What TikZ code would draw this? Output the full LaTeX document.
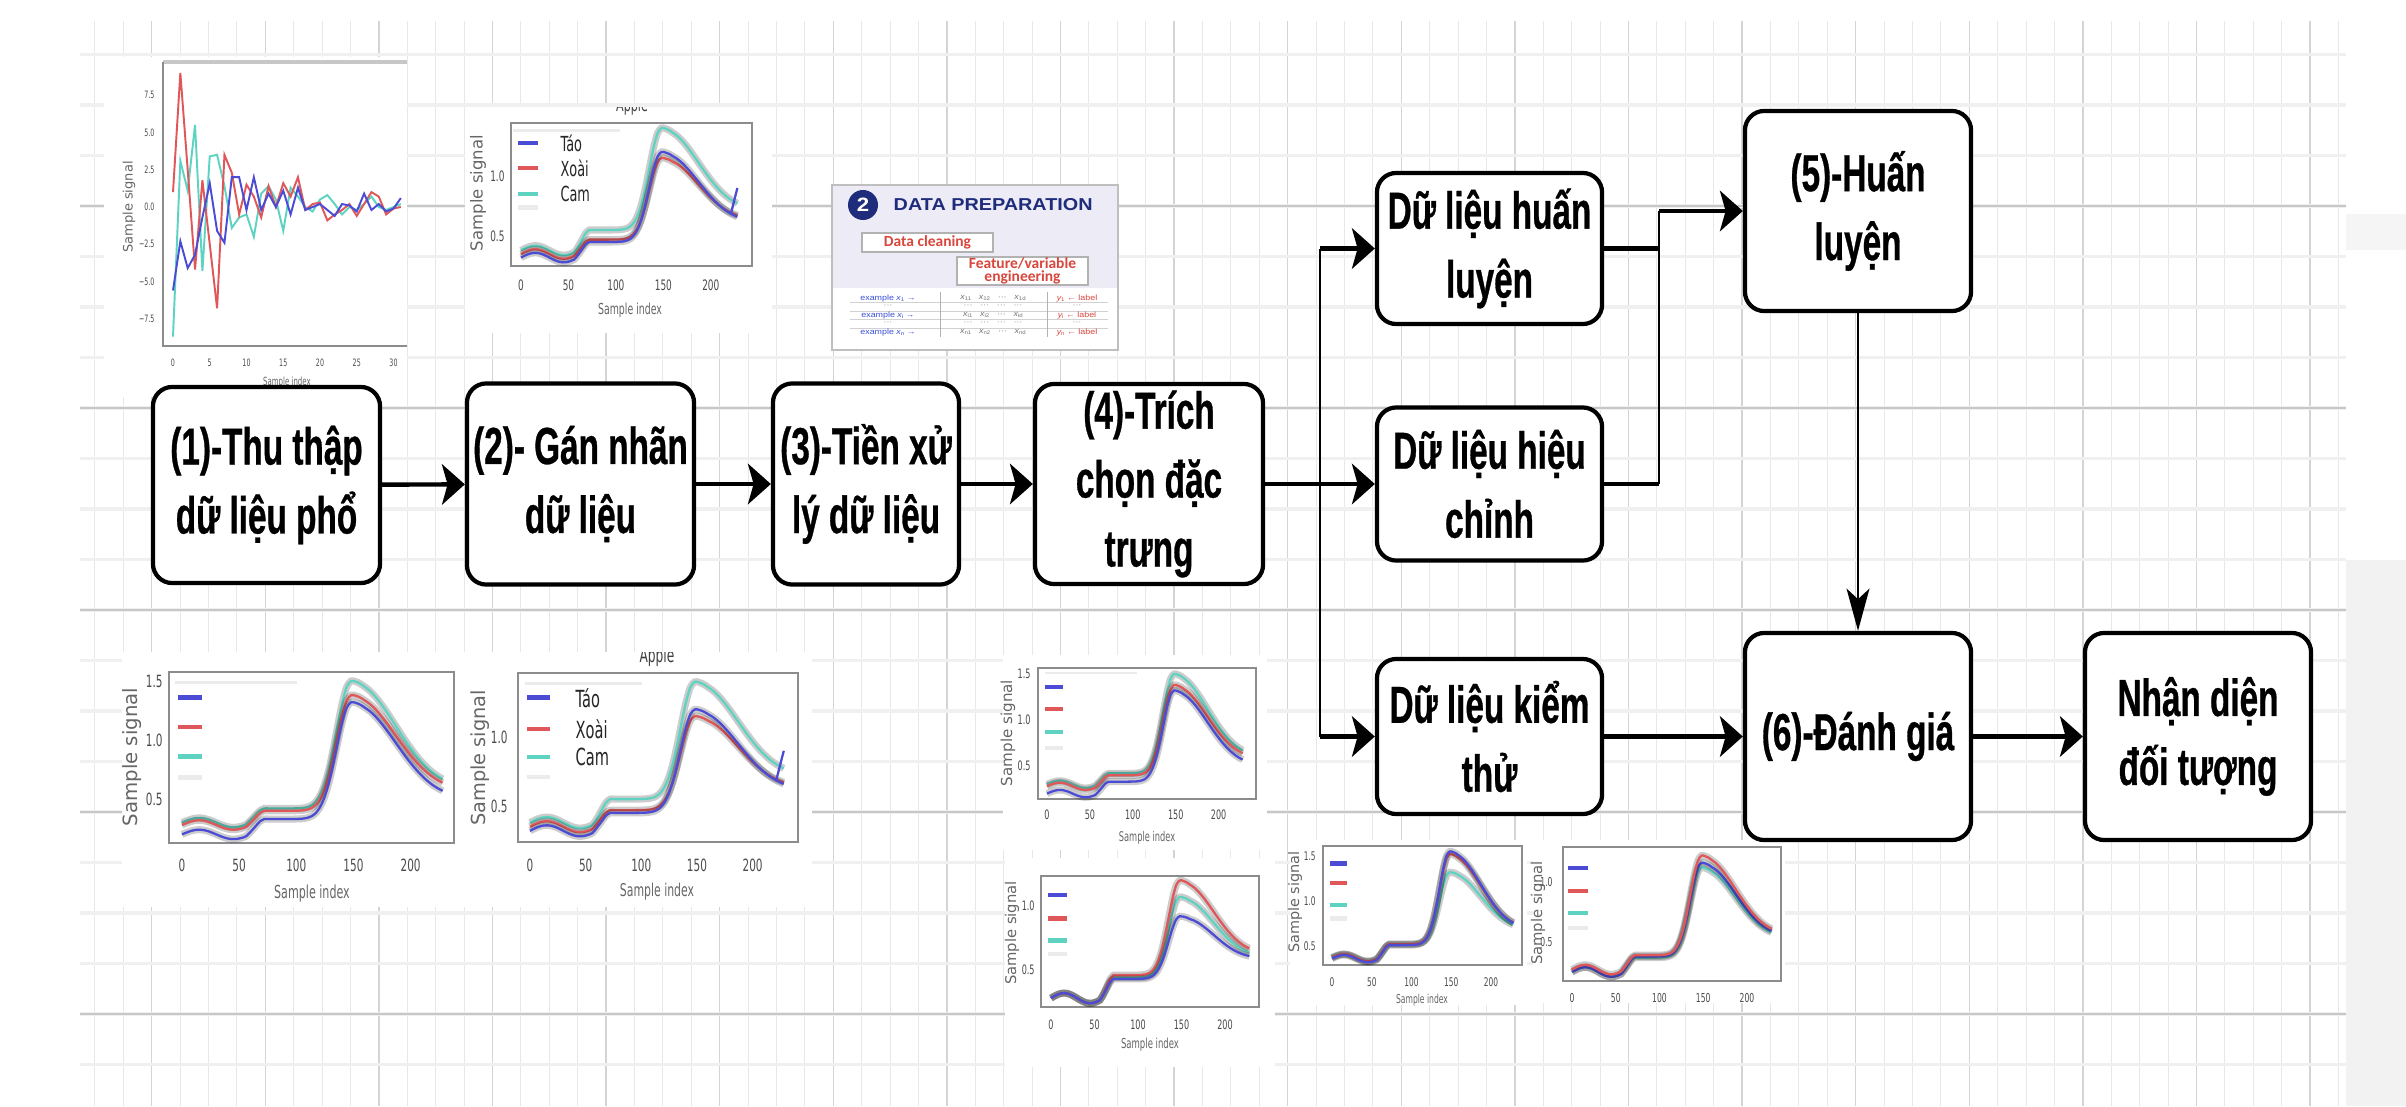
\documentclass[tikz,border=0pt]{standalone}
\usepackage{fontspec}
\usetikzlibrary{arrows.meta}
\newfontfamily\boxfont[FakeStretch=0.64, FakeBold=0.6]{Liberation Sans}
\newfontfamily\plotfont[FakeStretch=0.62]{DejaVu Sans}
\newfontfamily\plotfontr{DejaVu Sans}
\newfontfamily\prepfont[FakeStretch=1.15]{Liberation Sans}
\newfontfamily\calfont{Carlito}
\definecolor{cblue}{HTML}{4B4BD6}
\definecolor{cred}{HTML}{E0575A}
\definecolor{ccyan}{HTML}{5FD3C2}
\definecolor{navy}{HTML}{1F2C7C}
\definecolor{prepred}{HTML}{D8463C}
\definecolor{exblue}{HTML}{3A4FD8}
\definecolor{lav}{HTML}{EDECF6}
\newcommand\tsub[1]{\raisebox{-0.35pt}{\fontsize{1.5}{1.5}\selectfont #1}}

\begin{document}
\begin{tikzpicture}[x=0.01cm, y=-0.01cm,
    mainbox/.style={draw, line width=1.2pt, rounded corners=5.5pt, fill=white,
      inner sep=0pt, align=center,
      font=\boxfont\bfseries\fontsize{14.8}{19.6}\selectfont},
    harrow/.style={line width=1.25pt, -{Stealth[length=6.5pt,width=11.5pt,inset=1.6pt]}},
    hline/.style={line width=1.25pt},
    vline/.style={line width=0.8pt},
    varrow/.style={line width=0.8pt, -{Stealth[length=12pt,width=6.5pt,inset=3pt]}},
    gminv/.style={black!9, line width=0.3pt},
    gmajv/.style={black!17, line width=0.4pt},
    gminh/.style={black!6, line width=1pt},
    gmajh/.style={black!22, line width=0.6pt},
    axis/.style={black!45, line width=0.6pt},
    tk/.style={font=\plotfont\fontsize{#1}{#1}\selectfont, text=black!70, inner sep=0.5pt},
    al/.style={font=\plotfont\fontsize{#1}{#1}\selectfont, text=black!60, inner sep=0pt},
    alr/.style={font=\plotfontr\fontsize{#1}{#1}\selectfont, text=black!60, inner sep=0pt, rotate=90},
    lg/.style={font=\plotfont\fontsize{#1}{#1}\selectfont, text=black!85, anchor=west, inner sep=0pt},
    leg/.style={line width=1.4pt},
    legfr/.style={black!8, line width=0.8pt},
    spc/.style={line width=0.65pt, domain=0:228, samples=58, smooth,
      preaction={draw, line width=2pt, draw opacity=0.2}},
    osc/.style={line width=0.55pt},
    prepbox/.style={draw=black!30, line width=0.4pt, fill=white, text=prepred,
      align=center, inner sep=0pt, font=\calfont\bfseries\fontsize{4.4}{3.8}\selectfont},
    tbl/.style={inner sep=0pt, font=\prepfont\fontsize{2.2}{2.2}\selectfont},
    declare function={spec(\xx,\bb,\st,\pk)=\bb+0.04*sin(6*\xx)*(\xx<60)
      +\st*min(1,max(0,(\xx-58)/12))
      +(\pk-\bb-\st)*exp(-((\xx-148)/(18+37*(\xx>148)))*((\xx-148)/(18+37*(\xx>148))))
      +0.12*max(0,(\xx-160)/68);},
  ]
\useasboundingbox (0,0) rectangle (2406,1106);
\fill[white] (0,0) rectangle (2406,1106);

% grid paper
\foreach \k in {-2,...,77} \draw[gminv] ({151.7+28.4*\k},21) -- ({151.7+28.4*\k},1106);
\foreach \k in {0,4,...,76} \draw[gmajv] ({151.7+28.4*\k},21) -- ({151.7+28.4*\k},1106);
\foreach \k in {-3,...,17} \draw[gminh] (80,{206+50.5*\k}) -- (2346,{206+50.5*\k});
\foreach \k in {0,4,...,16} \draw[gmajh] (80,{206+50.5*\k}) -- (2346,{206+50.5*\k});
\fill[black!4] (2346,214) rectangle (2406,250);
\fill[black!5] (2346,560) rectangle (2406,1106);

% white backs of the plots
\fill[white] (104,57) rectangle (407,397);
\fill[white] (465,107) rectangle (772,333);
\fill[white] (122,652) rectangle (812,907);
\fill[white] (1003,655) rectangle (1267,850);
\fill[white] (1005,858) rectangle (1275,1067);
\fill[white] (1290,840) rectangle (1527,1005);
\fill[white] (1533,840) rectangle (1785,1003);

% raw signal plot
\begin{scope}[shift={(173,207)}, xscale=7.35, yscale=-14.9]
  \draw[black!22, line width=1.2pt] (-1.36,9.73) -- (31.8,9.73);
  \draw[axis] (-1.36,9.73) -- (-1.36,-9.33) -- (31.8,-9.33);
  \foreach \v/\s in {-7.5/−7.5,-5.0/−5.0,-2.5/−2.5,0.0/0.0,2.5/2.5,5.0/5.0,7.5/7.5}
    \node[tk=2.9, anchor=east] at (-2.2,\v) {\s};
  \foreach \v in {0,5,...,30} \node[tk=2.9] at (\v,-10.47) {\v};
  \node[al=3.2] (p1x) at (15.5,-11.75) {Sample index};
  \node[alr=3.7] (p1y) at (-5.99,0) {Sample signal};
  \draw[osc, ccyan] plot coordinates {(0,-8.7) (1,3.1) (2,1.1) (3,5.5) (4,-4.3) (5,3.4) (6,3.5) (7,1.4) (8,-1.4) (9,-0.7) (10,-0.5) (11,-2.0) (12,0.9) (13,1.4) (14,0.5) (15,-1.6) (16,1.3) (17,0.7) (18,0) (19,-0.3) (20,0.5) (21,0.8) (22,0.2) (23,-0.5) (24,0) (25,-0.2) (26,0.2) (27,0.7) (28,0) (29,-0.2) (30,0) (31,0.2)};
  \draw[osc, cred] plot coordinates {(0,1.0) (1,9.0) (2,2.5) (3,-4.2) (4,1.8) (5,-2.5) (6,-6.8) (7,3.5) (8,2.3) (9,-0.5) (10,1.5) (11,0.7) (12,-0.7) (13,1.4) (14,0) (15,1.6) (16,0.7) (17,2.0) (18,-0.2) (19,0.2) (20,0.3) (21,-0.9) (22,-0.5) (23,-0.2) (24,0.2) (25,-0.6) (26,0.2) (27,1.0) (28,0.7) (29,-0.5) (30,-0.1) (31,0)};
  \draw[osc, cblue] plot coordinates {(0,-5.6) (1,-2.3) (2,-4.1) (3,-3.2) (4,-0.7) (5,1.6) (6,-1.6) (7,-2.4) (8,2.0) (9,2.0) (10,-0.2) (11,2.0) (12,-0.2) (13,0.9) (14,0) (15,1.1) (16,-0.5) (17,1.3) (18,-0.2) (19,0) (20,0.2) (21,-0.2) (22,-0.6) (23,0.2) (24,0.1) (25,-0.3) (26,0.9) (27,-0.2) (28,0.2) (29,-0.3) (30,-0.1) (31,0.6)};
\end{scope}

% apple plot, top
\begin{scope}[shift={(521,296)}, xscale=0.949, yscale=-120]
  \begin{scope}
    \clip (-60,1.568) rectangle (260,1.46);
    \node[al=5.1, anchor=base, text=black!75] (p2t) at (117,1.536) {Apple};
  \end{scope}
  \draw[axis] (-10.5,0.25) rectangle (243.4,1.44);
  \foreach \v in {0,50,...,200} \node[tk=4.1] at (\v,0.092) {\v};
  \foreach \v in {0.5,1.0} \node[tk=4.1, anchor=east] at (-14.8,\v) {\v};
  \node[al=4.3] (p2x) at (114.9,-0.117) {Sample index};
  \node[alr=4.7] (p2y) at (-45.3,0.858) {Sample signal};
  \draw[legfr] (-8,1.38) -- (104,1.38);
  \draw[leg, cblue] (-3.2,1.275) -- (17.9,1.275);
  \draw[leg, cred] (-3.2,1.067) -- (17.9,1.067);
  \draw[leg, ccyan] (-3.2,0.85) -- (17.9,0.85);
  \draw[leg, black!8] (-3.2,0.74) -- (17.9,0.74);
  \node[lg=5.9] (p2a) at (41,1.275) {Táo};
  \node[lg=5.9] (p2b) at (41,1.067) {Xoài};
  \node[lg=5.9] (p2c) at (41,0.85) {Cam};
  \draw[spc, ccyan] plot (\x,{spec(\x,0.38,0.17,1.4)});
  \draw[spc, cred] plot (\x,{spec(\x,0.35,0.12,1.15)});
  \draw[spc, cblue] plot (\x,{spec(\x,0.32,0.13,1.2)});
  \draw[line width=0.65pt, cblue] (221,0.68) -- (228,0.9);
\end{scope}

% spectra plot, bottom left
\begin{scope}[shift={(182,858)}, xscale=1.143, yscale=-118]
  \draw[axis] (-11.4,0.127) rectangle (238,1.576);
  \foreach \v in {0,50,...,200} \node[tk=4.8] at (\v,-0.06) {\v};
  \foreach \v in {0.5,1.0,1.5} \node[tk=4.8, anchor=east] at (-14.9,\v) {\v};
  \node[al=5.1] (p3x) at (113.7,-0.297) {Sample index};
  \node[alr=5.6] (p3y) at (-43.7,0.856) {Sample signal};
  \draw[legfr] (-6,1.49) -- (101,1.49);
  \draw[leg, cblue] (-3.5,1.364) -- (17.5,1.364);
  \draw[leg, cred] (-3.5,1.11) -- (17.5,1.11);
  \draw[leg, ccyan] (-3.5,0.864) -- (17.5,0.864);
  \draw[leg, black!8] (-3.5,0.686) -- (17.5,0.686);
  \draw[spc, ccyan] plot (\x,{spec(\x,0.3,0.12,1.5)});
  \draw[spc, cred] plot (\x,{spec(\x,0.28,0.12,1.38)});
  \draw[spc, cblue] plot (\x,{spec(\x,0.2,0.13,1.32)});
\end{scope}

% apple plot, bottom
\begin{scope}[shift={(530,875)}, xscale=1.113, yscale=-138]
  \begin{scope}
    \clip (-60,1.616) rectangle (260,1.5);
    \node[al=5.6, anchor=base, text=black!75] (p4t) at (114,1.538) {Apple};
  \end{scope}
  \draw[axis] (-10.8,0.239) rectangle (240.8,1.464);
  \foreach \v in {0,50,...,200} \node[tk=4.8] at (\v,0.072) {\v};
  \foreach \v in {0.5,1.0} \node[tk=4.8, anchor=east] at (-18,\v) {\v};
  \node[al=5.0] (p4x) at (114.1,-0.123) {Sample index};
  \node[alr=5.5] (p4y) at (-44.9,0.848) {Sample signal};
  \draw[legfr] (-4.5,1.39) -- (101,1.39);
  \draw[leg, cblue] (-2.7,1.283) -- (18,1.283);
  \draw[leg, cred] (-2.7,1.058) -- (18,1.058);
  \draw[leg, ccyan] (-2.7,0.855) -- (18,0.855);
  \draw[leg, black!8] (-2.7,0.71) -- (18,0.71);
  \node[lg=6.7] (p4a) at (40.4,1.283) {Táo};
  \node[lg=6.7] (p4b) at (40.4,1.058) {Xoài};
  \node[lg=6.7] (p4c) at (40.4,0.855) {Cam};
  \draw[spc, ccyan] plot (\x,{spec(\x,0.38,0.17,1.4)});
  \draw[spc, cred] plot (\x,{spec(\x,0.35,0.12,1.15)});
  \draw[spc, cblue] plot (\x,{spec(\x,0.32,0.13,1.2)});
  \draw[line width=0.65pt, cblue] (221,0.68) -- (228,0.9);
\end{scope}

% spectra under box 4
\begin{scope}[shift={(1047,812)}, xscale=0.858, yscale=-92]
  \draw[axis] (-10.5,0.141) rectangle (243.6,1.565);
  \foreach \v in {0,50,...,200} \node[tk=3.7] at (\v,-0.033) {\v};
  \foreach \v in {0.5,1.0,1.5} \node[tk=3.7, anchor=east] at (-16.3,\v) {\v};
  \node[al=3.8] (p5x) at (116.6,-0.283) {Sample index};
  \node[alr=4.3] (p5y) at (-45.5,0.859) {Sample signal};
  \draw[legfr] (-2,1.51) -- (105,1.51);
  \draw[leg, cblue] (-2.3,1.359) -- (18.6,1.359);
  \draw[leg, cred] (-2.3,1.12) -- (18.6,1.12);
  \draw[leg, ccyan] (-2.3,0.87) -- (18.6,0.87);
  \draw[leg, black!8] (-2.3,0.696) -- (18.6,0.696);
  \draw[spc, ccyan] plot (\x,{spec(\x,0.3,0.12,1.5)});
  \draw[spc, cred] plot (\x,{spec(\x,0.28,0.12,1.38)});
  \draw[spc, cblue] plot (\x,{spec(\x,0.2,0.13,1.32)});
\end{scope}

\begin{scope}[shift={(1051,1034)}, xscale=0.87, yscale=-128]
  \draw[axis] (-11.5,0.211) rectangle (239,1.234);
  \foreach \v in {0,50,...,200} \node[tk=3.7] at (\v,0.07) {\v};
  \foreach \v in {0.5,1.0} \node[tk=3.7, anchor=east] at (-16,\v) {\v};
  \node[al=3.9] (p6x) at (113.8,-0.086) {Sample index};
  \node[alr=4.2] (p6y) at (-44.8,0.789) {Sample signal};
  \draw[leg, cblue] (-3.4,1.086) -- (18.4,1.086);
  \draw[leg, cred] (-3.4,0.906) -- (18.4,0.906);
  \draw[leg, ccyan] (-3.4,0.727) -- (18.4,0.727);
  \draw[leg, black!8] (-3.4,0.625) -- (18.4,0.625);
  \draw[spc, ccyan] plot (\x,{spec(\x,0.28,0.16,1.07)});
  \draw[spc, cred] plot (\x,{spec(\x,0.28,0.18,1.2)});
  \draw[spc, cblue] plot (\x,{spec(\x,0.28,0.15,0.92)});
\end{scope}

% spectra under the test data
\begin{scope}[shift={(1332,991)}, xscale=0.795, yscale=-90]
  \draw[axis] (-11.3,0.289) rectangle (239,1.611);
  \foreach \v in {0,50,...,200} \node[tk=3.4] at (\v,0.1) {\v};
  \foreach \v in {0.5,1.0,1.5} \node[tk=3.4, anchor=east] at (-17.6,\v) {\v};
  \node[al=3.5] (p7x) at (113.2,-0.1) {Sample index};
  \node[alr=4.1] (p7y) at (-46.5,0.989) {Sample signal};
  \draw[leg, cblue] (-2.5,1.42) -- (18.9,1.42);
  \draw[leg, cred] (-2.5,1.2) -- (18.9,1.2);
  \draw[leg, ccyan] (-2.5,0.956) -- (18.9,0.956);
  \draw[leg, black!8] (-2.5,0.81) -- (18.9,0.81);
  \draw[spc, ccyan] plot (\x,{spec(\x,0.37,0.15,1.32)});
  \draw[spc, cred] plot (\x,{spec(\x,0.37,0.15,1.52)});
  \draw[spc, cblue] plot (\x,{spec(\x,0.36,0.15,1.55)});
\end{scope}

\begin{scope}[shift={(1572,1002)}, xscale=0.875, yscale=-120]
  \draw[axis] (-10.3,0.175) rectangle (238.9,1.29);
  \foreach \v in {0,50,...,200} \node[tk=3.5] at (\v,0.033) {\v};
  \foreach \v in {0.5,1.0} \node[tk=3.5, anchor=east] at (-19.4,\v) {\v};
  \node[alr=4.2] (p8y) at (-38.9,0.742) {Sample signal};
  \draw[leg, cblue] (-4.6,1.117) -- (18.3,1.117);
  \draw[leg, cred] (-4.6,0.925) -- (18.3,0.925);
  \draw[leg, ccyan] (-4.6,0.742) -- (18.3,0.742);
  \draw[leg, black!8] (-4.6,0.617) -- (18.3,0.617);
  \draw[spc, ccyan] plot (\x,{spec(\x,0.25,0.12,1.12)});
  \draw[spc, cblue] plot (\x,{spec(\x,0.25,0.13,1.16)});
  \draw[spc, cred] plot (\x,{spec(\x,0.27,0.12,1.22)});
\end{scope}

% data preparation card
\fill[lav] (832,185) rectangle (1118,288);
\fill[white] (832,288) rectangle (1118,350);
\draw[black!25, line width=0.3pt] (832,185) rectangle (1118,350);
\node[circle, fill=navy, text=white, minimum size=0.3cm, inner sep=0pt,
  font=\prepfont\bfseries\fontsize{5.5}{5.5}\selectfont] (dpnum) at (863,205) {2};
\node[anchor=west, text=navy, inner sep=0pt,
  font=\prepfont\bfseries\fontsize{4.9}{4.9}\selectfont] (dptitle) at (893,205) {DATA PREPARATION};
\node[prepbox, minimum width=1.31cm, minimum height=0.19cm] (dclean) at (927.5,242.5) {Data cleaning};
\node[prepbox, minimum width=1.31cm, minimum height=0.28cm] (dfeat) at (1022.5,271) {Feature/variable\\engineering};
\foreach \y in {302,311,319,328} \draw[black!18, line width=0.2pt] (850,\y) -- (1108,\y);
\draw[black!30, line width=0.2pt] (940,292) -- (940,337);
\draw[black!30, line width=0.2pt] (1047,292) -- (1047,337);
\foreach \y/\i in {298/1, 315/i, 332/n} {
  \node[tbl, text=exblue] at (888,\y) {example {\itshape x}\tsub{\i} →};
  \node[tbl, text=black!55] at (993,\y) {{\itshape x}\tsub{\i 1}\quad{\itshape x}\tsub{\i 2}\quad···\quad{\itshape x}\tsub{\i d}};
  \node[tbl, text=prepred] at (1077,\y) {{\itshape y}\tsub{\i} ← label};
}
\foreach \y in {306.5,323.5} {
  \node[tbl, text=black!45] at (888,\y) {···};
  \node[tbl, text=black!45] at (993,\y) {···\quad···\quad···\quad···};
  \node[tbl, text=black!45] at (1077,\y) {···};
}

% process boxes
\node[mainbox, minimum width=2.27cm, minimum height=1.96cm] (b1) at (266.5,485) {(1)-Thu thập\\dữ liệu phổ};
\node[mainbox, minimum width=2.27cm, minimum height=2.01cm] (b2) at (580.5,484) {(2)- Gán nhãn\\dữ liệu};
\node[mainbox, minimum width=1.86cm, minimum height=2.01cm] (b3) at (866,484) {(3)-Tiền xử\\lý dữ liệu};
\node[mainbox, minimum width=2.28cm, minimum height=2.00cm] (b4) at (1149,484) {(4)-Trích\\chọn đặc\\trưng};
\node[mainbox, minimum width=2.25cm, minimum height=1.51cm] (dhl) at (1489.5,248.5) {Dữ liệu huấn\\luyện};
\node[mainbox, minimum width=2.25cm, minimum height=1.53cm] (dhc) at (1489.5,484) {Dữ liệu hiệu\\chỉnh};
\node[mainbox, minimum width=2.25cm, minimum height=1.55cm] (dkt) at (1489.5,736.5) {Dữ liệu kiểm\\thử};
\node[mainbox, minimum width=2.26cm, minimum height=2.00cm] (b5) at (1858,211) {(5)-Huấn\\luyện};
\node[mainbox, minimum width=2.26cm, minimum height=2.07cm] (b6) at (1858,736.5) {(6)-Đánh giá};
\node[mainbox, minimum width=2.26cm, minimum height=2.07cm] (nd) at (2198,736.5) {Nhận diện\\đối tượng};

% connectors
\coordinate (sp) at (1320,0);
\coordinate (mg) at (1659,0);
\draw[harrow] (b1) -- (b2);
\draw[harrow] (b2) -- (b3);
\draw[harrow] (b3) -- (b4);
\draw[harrow] (b4) -- (dhc);
\draw[vline] (dhl.west -| sp) -- (dkt.west -| sp);
\draw[harrow] (dhl.west -| sp) -- (dhl.west);
\draw[harrow] (dkt.west -| sp) -- (dkt.west);
\draw[hline] (dhl.east) -- (dhl.east -| mg);
\draw[hline] (dhc.east) -- (dhc.east -| mg);
\draw[vline] (dhc.east -| mg) -- (b5.west -| mg);
\draw[harrow] (b5.west -| mg) -- (b5.west);
\draw[varrow] (b5) -- (b6);
\draw[harrow] (dkt) -- (b6);
\draw[harrow] (b6) -- (nd);
\end{tikzpicture}
\end{document}
